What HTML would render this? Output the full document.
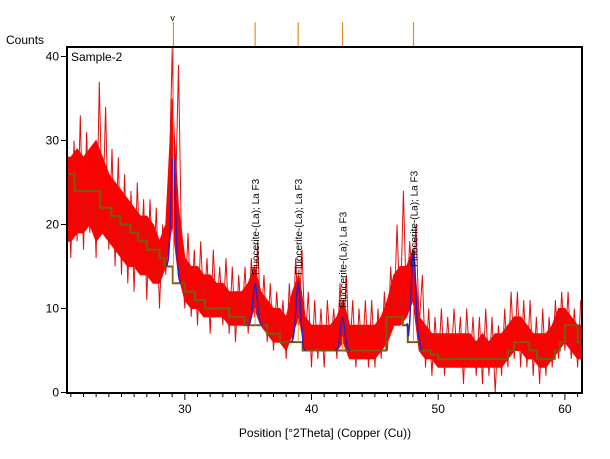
<!DOCTYPE html>
<html><head><meta charset="utf-8"><style>
body{margin:0;background:#fff;width:610px;height:459px;overflow:hidden}
svg{display:block;font-family:"Liberation Sans",sans-serif}
</style></head><body>
<svg id="c" width="610" height="459"></svg>
<script>
const xStart=20.75, xStep=0.25;
const counts=[28,
16,30,18,33, 17,31,19,28, 16,37,20,34, 17,29,15,28, 14,26,13,24,
12,25,14,23, 11,23,13,22, 10,20,14,24, 41,22,39,16, 10,19,9,17,
8,18,10,16, 7,17,9,15, 8,16,7,15, 6,14,8,15, 7,16,9,18,
8,14,6,13, 5,12,6,11, 4,13,6,16, 8,17,6,12, 3,11,4,10,
3,11,5,10, 4,13,6,14, 4,11,3,10, 4,11,3,11, 3,10,4,12,
5,15,8,20, 9,24,10,18, 12,20,8,14, 3,10,2,9, 3,10,2,9,
3,10,4,9, 1,10,3,9, 2,9,1,10, 2,9,0,8, 2,10,3,12,
4,12,3,11, 3,11,2,9, 1,10,2,9, 3,11,4,12, 5,12,4,10,
3,11];
const bandStart=20.5, bandStep=0.5;
const bandLow=[18,18,19,19,20,18,19,18,17,16,15,15,14,14,13,13,15,20,14,11,10,10,9,9,9,9,8,8,8,8,10,8,7,6,6,5,7,9,5,5,5,5,5,5,6,4,4,4,4,4,5,6,8,8,9,11,5,4,4,3,3,3,3,3,3,3,3,3,3,3,4,5,5,4,4,3,3,4,5,6,5,4,4];
const bandHigh=[28,28,29,28,29,30,28,26,25,24,23,22,21,21,20,18,20,35,22,16,15,15,14,14,13,13,12,12,12,13,15,12,11,10,10,9,12,14,9,8,8,8,8,9,11,8,8,8,8,8,9,11,14,15,15,17,9,8,7,7,7,7,7,7,7,6,7,6,7,7,8,9,9,8,7,7,7,8,10,10,9,8,8];
const bgEdges=[20.75,21.3,23.3,24.2,24.9,25.7,26.3,27.0,28.0,28.4,29.05,30.0,30.8,31.6,33.5,34.7,36.5,37.5,39.3,45.9,47.2,47.6,48.6,49.4,50.0,55.5,56.0,57.2,57.8,59.2,59.6,60.0,61.0];
const bgLevels=[26,24,22,21,20,19,18,17,16,15,13,12,11,10,9,8,7,6,5,9,8,6,5,4.5,4,5,6,5,4,5,6,8,6];
const peakPos=[29.1,35.55,38.95,42.45,48.05];
const peakHeights=[15,5,7,4,11];
const labelText="Fluocerite-(La); La F3";
const xTicksMajor=[30,40,50,60];
const yTicks=[0,10,20,30,40];

const L=67,R=582,T=47,B=393;
const xMin=20.7,xMax=61.35;
const X=v=>L+(Math.max(xMin,Math.min(xMax,v))-xMin)/(xMax-xMin)*(R-L);
const Y=v=>392.5-v*8.4;
const ns="http://www.w3.org/2000/svg";
const svg=document.getElementById('c');
function mk(t,a){const e=document.createElementNS(ns,t);for(const k in a)e.setAttribute(k,a[k]);svg.appendChild(e);return e;}
function bgAt(v){let l=bgLevels[0];for(let i=0;i<bgEdges.length;i++){if(v>=bgEdges[i])l=bgLevels[i];}return l;}

const up=bandHigh.map((c,i)=>X(bandStart+i*bandStep).toFixed(1)+','+Y(c).toFixed(1));
const dn=bandLow.map((c,i)=>X(bandStart+i*bandStep).toFixed(1)+','+Y(c).toFixed(1)).reverse();
const band=mk('polygon',{points:up.concat(dn).join(' '),fill:'#ff0000',stroke:'#ff0000','stroke-width':1});


let p=counts.map((c,i)=>X(xStart+i*xStep).toFixed(1)+','+Y(c).toFixed(1)).join(' ');
let red=mk('polyline',{points:p,fill:'none',stroke:'#e01010','stroke-width':1});



let bp=[];
for(let i=0;i<bgEdges.length;i++){const x0=X(bgEdges[i]),x1=X(i+1<bgEdges.length?bgEdges[i+1]:xMax);bp.push(x0+','+Y(bgLevels[i]),x1+','+Y(bgLevels[i]));}
let bg=mk('polyline',{points:bp.join(' '),fill:'none',stroke:'#7a5a10','stroke-width':2});



peakPos.forEach((pp,i)=>{
  const pts=[];
  for(let d=-0.6;d<=0.61;d+=0.1){const v=pp+d;const h=bgAt(v)+peakHeights[i]*Math.exp(-(d*d)/(2*0.17*0.17));pts.push(X(v).toFixed(1)+','+Y(h).toFixed(1));}
  const pk=mk('polyline',{points:pts.join(' '),fill:'none',stroke:'#3020c0','stroke-width':1.5});
  
  
  const st=mk('line',{x1:X(pp),x2:X(pp),y1:Y(bgAt(pp)),y2:i==0?T:Y(bgAt(pp)+peakHeights[i]*0.4),stroke:'#f0a030','stroke-width':1});
  
  
  const tk=mk('line',{x1:X(pp),x2:X(pp),y1:22,y2:T,stroke:'#e09030','stroke-width':1.2});
  
  
  if(i>0){
    const ly=[275,275,308,267][i-1];
    const t=mk('text',{x:0,y:0,'font-size':10,transform:`translate(${X(pp)+4},${ly}) rotate(-90)`,fill:'#000'});
    t.textContent=labelText;
    
    
  }
});
const vm=mk('text',{x:X(peakPos[0])-3,y:21,'font-size':9});vm.textContent='v';



const fr=mk('rect',{x:L,y:T,width:R-L,height:B-T,fill:'none',stroke:'#000','stroke-width':2});


for(let v=21;v<=61;v++){const major=v%10==0;const tl=mk('line',{x1:X(v),x2:X(v),y1:B,y2:B+(major?7:4),stroke:'#000'});

}
xTicksMajor.forEach(v=>{const t=mk('text',{x:X(v),y:B+20,'font-size':12,'text-anchor':'middle'});t.textContent=v;

});
yTicks.forEach(v=>{const tl=mk('line',{x1:L-6,x2:L,y1:Y(v),y2:Y(v),stroke:'#000'});


const t=mk('text',{x:L-8,y:Y(v)+4,'font-size':12,'text-anchor':'end'});t.textContent=v;

});
const ct=mk('text',{x:6,y:44,'font-size':12});ct.textContent='Counts';


const sn=mk('text',{x:71,y:61,'font-size':12});sn.textContent='Sample-2';


const xt=mk('text',{x:325,y:437,'font-size':12,'text-anchor':'middle'});xt.textContent='Position [°2Theta] (Copper (Cu))';


</script>
</body></html>
